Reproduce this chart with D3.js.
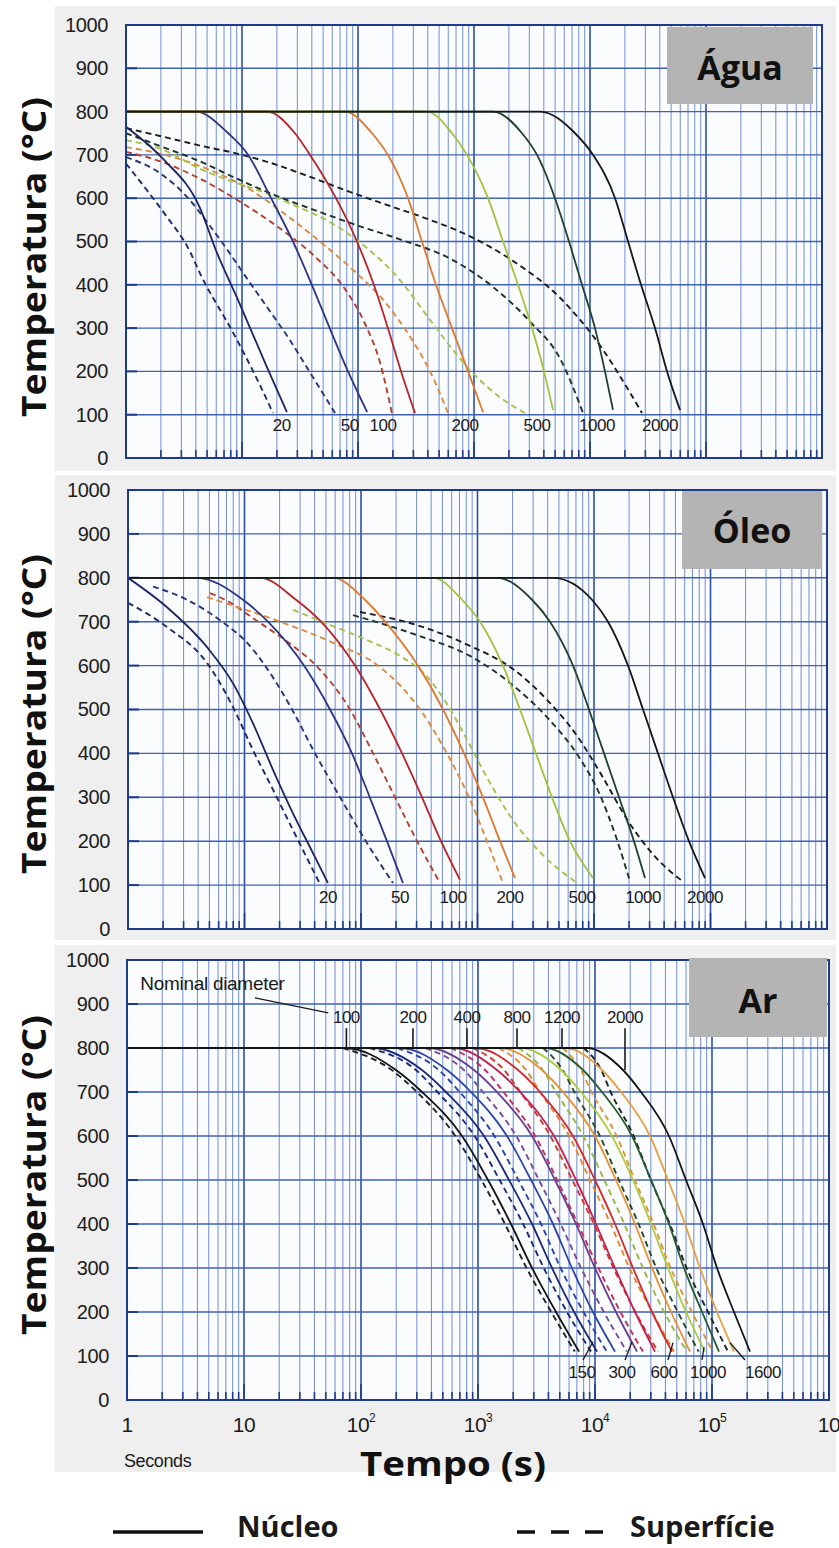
<!DOCTYPE html>
<html><head><meta charset="utf-8">
<script src="https://cdn.jsdelivr.net/npm/d3@7"></script>
<style>body{margin:0;background:#fff} svg{display:block}</style>
</head><body>
<script>
// ---------------- DATA ----------------
const tempTicks = [0,100,200,300,400,500,600,700,800,900,1000];
const timeLabelValues = [1,10,100,1000,10000,100000,1000000];
const timeLabelExp = ["","","2","3","4","5",""];

// Água (water) – [time s, temperature °C]
const waterSizes = [20,50,100,200,500,1000,2000];
const waterCore = [
  [[1,765],[2.1,690],[4.3,580],[6.1,473],[9,372],[16.4,210],[24.4,106]],
  [[1,800],[4,800],[7.6,750],[11.3,700],[17.8,600],[27.5,500],[40,400],[57,300],[82,200],[120,106]],
  [[1,800],[16.4,800],[28.6,750],[38.6,700],[64.6,600],[98,500],[137,400],[181,300],[235,200],[310,104]],
  [[1,800],[77,800],[132,750],[181,700],[270,600],[356,500],[470,400],[646,300],[888,200],[1196,106]],
  [[1,800],[393,800],[646,750],[870,700],[1321,600],[1778,500],[2395,400],[3162,300],[4010,200],[4800,111]],
  [[1,800],[1459,800],[2594,750],[3493,700],[4990,600],[6590,500],[8530,400],[11040,300],[13460,200],[15790,111]],
  [[1,800],[3705,800],[7430,750],[10620,700],[16440,600],[21280,500],[27540,400],[36340,300],[46130,200],[59700,111]]
];
const waterSurface = [
  [[1,680],[1.5,620],[2.25,557],[3.4,487],[4.5,418],[8.4,289],[14,173],[18.5,104]],
  [[1,695],[1.96,658],[3.36,603],[4.99,545],[7.42,482],[11,415],[16.8,345],[25.9,272],[40.1,190],[63.4,104]],
  [[1,707],[2.08,683],[4.34,645],[9.6,592],[21.3,530],[42.6,465],[77.3,390],[115,310],[155,220],[196,104]],
  [[1,718],[2.17,700],[5.3,665],[11.7,620],[24.4,560],[47,500],[94.2,430],[171,360],[281,280],[418,200],[597,104]],
  [[1,734],[2.08,712],[4.34,668],[21.3,598],[85.3,515],[230,411],[418,319],[924,203],[1675,140],[2754,104]],
  [[1,750],[2.08,718],[4.09,688],[9.06,645],[20,605],[47,568],[104,535],[230,505],[659,457],[1459,395],[3040,315],[5510,230],[8710,104]],
  [[1,762],[2.08,742],[4.61,720],[9.06,703],[17.4,682],[36.3,652],[80.4,617],[189,582],[418,550],[924,512],[2170,455],[5510,370],[12940,250],[20040,170],[28050,104]]
];
const waterLabelT = [22,85,164,836,3490,11480,40100];

// Óleo (oil)
const oilSizes = [20,50,100,200,500,1000,2000];
const oilCore = [
  [[1,800],[2.16,733],[4.77,642],[7.95,560],[11.8,469],[17.6,362],[26,264],[38.7,173],[52,105]],
  [[1,800],[3.9,800],[9.7,750],[15.9,700],[32.4,600],[54.2,500],[83.7,400],[119,300],[167,200],[229,105]],
  [[1,800],[13.6,800],[27.7,750],[45.4,700],[88.8,600],[146,500],[225,400],[334,300],[486,200],[707,112]],
  [[1,800],[57.5,800],[108,750],[161,700],[308,600],[506,500],[766,400],[1114,300],[1560,200],[2100,116]],
  [[1,800],[415,800],[736,750],[1050,700],[1655,600],[2316,500],[3177,400],[4358,300],[6226,200],[9800,116]],
  [[1,800],[1469,800],[2938,750],[4190,700],[6607,600],[9060,500],[12190,400],[16400,300],[22030,200],[27400,116]],
  [[1,800],[4449,800],[9610,750],[13190,700],[19590,600],[26360,500],[35420,400],[47640,300],[65350,200],[89700,116]]
];
const oilSurface = [
  [[1,743],[2.16,688],[4.77,606],[7.95,506],[11.8,408],[17.6,317],[26,226],[44,105]],
  [[1.64,780],[3.21,750],[6.41,700],[10.7,650],[15,600],[25.6,500],[40.3,400],[66.1,300],[110,200],[188,105]],
  [[5.06,765],[6.8,750],[13.1,700],[24.6,650],[41.1,600],[80.5,500],[127,400],[196,300],[303,200],[476,105]],
  [[4.77,756],[5.58,750],[20.2,700],[59.8,650],[140,600],[321,500],[547,400],[845,300],[1207,200],[1624,110]],
  [[26.1,727],[57.5,690],[113,658],[216,622],[354,580],[526,520],[781,440],[1207,345],[1900,258],[3437,175],[7150,105]],
  [[85.4,715],[321,667],[862,622],[2018,555],[4190,475],[7290,395],[11270,305],[15440,210],[20370,108]],
  [[98,722],[321,690],[862,645],[2018,592],[3954,522],[7150,440],[11950,345],[19190,250],[33400,165],[58070,108]]
];
const oilLabelT = [52,216,616,1900,7890,26360,89700];

// Ar (air)
const airSizes = [100,150,200,300,400,600,800,1000,1200,1600,2000];
const airCore = [
  [[1,800],[73,800],[199,750],[332,700],[730,600],[1218,500],[1914,400],[2897,300],[4645,200],[7300,110]],
  [[1,800],[124,800],[332,750],[532,700],[1125,600],[1841,500],[2897,400],[4290,300],[6620,200],[10400,110]],
  [[1,800],[215,800],[543,750],[871,700],[1770,600],[2838,500],[4375,400],[6350,300],[9610,200],[14830,110]],
  [[1,800],[374,800],[924,750],[1453,700],[2897,600],[4550,500],[6880,400],[10000,300],[15110,200],[22860,110]],
  [[1,800],[611,800],[1453,750],[2286,700],[4467,600],[6880,500],[10200,400],[14830,300],[21980,200],[32590,110]],
  [[1,800],[943,800],[2198,750],[3388,700],[6486,600],[10000,500],[14830,400],[21130,300],[30720,200],[45500,110]],
  [[1,800],[1542,800],[3524,750],[5320,700],[10000,600],[15110,500],[21980,400],[30720,300],[44670,200],[64860,110]],
  [[1,800],[2286,800],[5120,750],[7590,700],[13970,600],[21130,500],[30130,400],[42070,300],[59950,200],[87100,110]],
  [[1,800],[3740,800],[7890,750],[11480,700],[20700,600],[30130,500],[42880,400],[57660,300],[82200,200],[114800,110]],
  [[1,800],[5545,800],[11480,750],[16680,700],[29510,600],[42070,500],[58750,400],[78890,300],[110400,200],[154200,110]],
  [[1,800],[8550,800],[17340,750],[24720,700],[42880,600],[59950,500],[83750,400],[110400,300],[154200,200],[211300,110]]
];
const airSurface = [
  [[70,800],[183,750],[300,700],[640,600],[1070,500],[1700,400],[2600,300],[4230,200],[6720,110]],
  [[118,800],[295,750],[450,700],[935,600],[1530,500],[2430,400],[3650,300],[5760,200],[9260,110]],
  [[205,800],[462,750],[697,700],[1380,600],[2210,500],[3460,400],[5080,300],[7980,200],[12600,110]],
  [[355,800],[758,750],[1100,700],[2120,600],[3320,500],[5090,400],[7600,300],[11900,200],[18700,110]],
  [[580,800],[1150,750],[1650,700],[3080,600],[4750,500],[7140,400],[10700,300],[16500,200],[25700,110]],
  [[900,800],[1670,750],[2300,700],[4150,600],[6400,500],[9790,400],[14400,300],[22100,200],[34600,110]],
  [[1500,800],[2570,750],[3400,700],[6000,600],[9070,500],[13600,400],[19700,300],[30800,200],[47300,110]],
  [[2200,800],[3580,750],[4630,700],[7960,600],[12000,500],[17800,400],[25700,300],[39000,200],[61000,110]],
  [[3600,800],[5290,750],[6660,700],[11000,600],[16000,500],[23600,400],[33400,300],[51000,200],[76900,110]],
  [[5300,800],[7580,750],[9340,700],[15300,600],[21900,500],[31700,400],[44200,300],[67300,200],[102000,110]],
  [[8000,800],[11300,750],[13600,700],[21400,600],[30000,500],[43600,400],[60700,300],[92500,200],[137000,110]]
];
const airTopLabels = [100,200,400,800,1200,2000];
const airTopLabelT = [75,278,805,2154,5224,18050];
const airTopTickEndTemp = [800,800,800,800,800,750];
const airBottomLabels = [150,300,600,1000,1600];
const airBottomLabelT = [7745,17000,38900,92400,273000];
const airLeaderFrom = [[7890,91],[18050,91],[42070,91],[82200,91],[191400,91]];
const airLeaderTo = [[9610,132],[20700,132],[46400,130],[85500,120],[142600,130]];

// ---------------- STYLES ----------------
const waterCoreColors = ["#1c2360","#2e3482","#b8232a","#e0782a","#a3c23a","#1f4028","#161616"];
const waterSurfColors = ["#1e2a6a","#2a3478","#b4402c","#dc8a3c","#a9c245","#1e3424","#1e1e1e"];
const airCoreColors = ["#141414","#1b2a78","#2c44a8","#6b3d8f","#c4204e","#d42a2a","#e8902c","#aecb3a","#275a2e","#e6a040","#141414"];
const airSurfColors = ["#222222","#1b2a78","#2c44a8","#7a4a9a","#c03060","#d03a2a","#e08a30","#9ab840","#2a4a2a","#d8963a","#222222"];

const W = 839, H = 1548;
const svg = d3.select("body").append("svg").attr("width", W).attr("height", H)
  .style("font-family", "'Liberation Sans', Arial, sans-serif");

const panels = [
  {title:"Água", x0:126, x1:822, yt:25, yb:458, bg:[55,6,836,471], box:[667,27,813,104], tx:740, ty:80, ycap:257,
   core:waterCore, surf:waterSurface, cc:waterCoreColors, sc:waterSurfColors, sizes:waterSizes, labT:waterLabelT, labTemp:76},
  {title:"Óleo", x0:128, x1:827, yt:490, yb:929, bg:[55,475,836,940], box:[682,491,822,569], tx:752, ty:543, ycap:714,
   core:oilCore, surf:oilSurface, cc:waterCoreColors, sc:waterSurfColors, sizes:oilSizes, labT:oilLabelT, labTemp:73},
  {title:"Ar", x0:127, x1:829, yt:960, yb:1400, bg:[55,945,836,1472], box:[689,958,827,1037], tx:758, ty:1013, ycap:1175,
   core:airCore, surf:airSurface, cc:airCoreColors, sc:airSurfColors, sizes:null}
];

panels.forEach((p, pi) => {
  const g = svg.append("g");
  g.append("rect").attr("x", p.bg[0]).attr("y", p.bg[1]).attr("width", p.bg[2]-p.bg[0]).attr("height", p.bg[3]-p.bg[1]).attr("fill", "#efefef");

  const x = d3.scaleLog().domain([1, 1e6]).range([p.x0, p.x1]);
  const y = d3.scaleLinear().domain([0, 1000]).range([p.yb, p.yt]);

  g.append("rect").attr("x", p.x0).attr("y", p.yt).attr("width", p.x1-p.x0).attr("height", p.yb-p.yt).attr("fill", "#fbfcfe");

  const ticks = x.ticks();
  const isMajor = t => Math.abs(Math.log10(t) - Math.round(Math.log10(t))) < 1e-9;
  g.append("g").selectAll("line").data(ticks).join("line")
    .attr("x1", d => x(d)).attr("x2", d => x(d)).attr("y1", p.yt).attr("y2", p.yb)
    .attr("stroke", d => isMajor(d) ? "#2c4ea6" : "#5b7cc8")
    .attr("stroke-width", d => isMajor(d) ? 1.6 : 1)
    .attr("opacity", d => isMajor(d) ? 1 : 0.85);
  g.append("g").selectAll("line").data(tempTicks.slice(1, -1)).join("line")
    .attr("x1", p.x0).attr("x2", p.x1).attr("y1", d => y(d)).attr("y2", d => y(d))
    .attr("stroke", "#3f62b5").attr("stroke-width", 1.4);
  g.append("g").selectAll("line").data(ticks).join("line")
    .attr("x1", d => x(d)).attr("x2", d => x(d)).attr("y1", p.yb).attr("y2", d => p.yb - (isMajor(d) ? 16 : 8))
    .attr("stroke", "#1e3a8a").attr("stroke-width", 1.6);
  g.append("g").selectAll("line").data(tempTicks).join("line")
    .attr("x1", p.x0).attr("x2", p.x0 + 11).attr("y1", d => y(d)).attr("y2", d => y(d))
    .attr("stroke", "#1e3a8a").attr("stroke-width", 2);

  const ya = g.append("g").attr("transform", `translate(${p.x0},0)`)
    .call(d3.axisLeft(y).tickValues(tempTicks).tickSize(0).tickPadding(18).tickFormat(d3.format("d")));
  ya.select(".domain").remove();
  ya.selectAll("text").attr("font-size", 20).attr("fill", "#1c1c1c").attr("letter-spacing", "-0.4px")
    .attr("font-family", "'Liberation Sans', Arial, sans-serif");

  const clipId = "clip" + pi;
  g.append("clipPath").attr("id", clipId).append("rect")
    .attr("x", p.x0).attr("y", p.yt).attr("width", p.x1 - p.x0).attr("height", p.yb - p.yt);
  const cg = g.append("g").attr("clip-path", `url(#${clipId})`);
  const line = d3.line().x(d => x(d[0])).y(d => y(d[1])).curve(d3.curveMonotoneX);
  cg.selectAll("path.s").data(p.surf).join("path").attr("class", "s")
    .attr("d", line).attr("fill", "none").attr("stroke", (d, i) => p.sc[i])
    .attr("stroke-width", 1.9).attr("stroke-dasharray", "6,4");
  cg.selectAll("path.c").data(p.core).join("path").attr("class", "c")
    .attr("d", line).attr("fill", "none").attr("stroke", (d, i) => p.cc[i])
    .attr("stroke-width", 1.8);

  g.append("rect").attr("x", p.x0).attr("y", p.yt).attr("width", p.x1 - p.x0).attr("height", p.yb - p.yt)
    .attr("fill", "none").attr("stroke", "#1e3a8a").attr("stroke-width", 2);

  if (p.sizes) {
    g.append("g").selectAll("text").data(p.sizes).join("text")
      .attr("x", (d, i) => x(p.labT[i])).attr("y", y(p.labTemp)).attr("dy", "0.35em")
      .attr("text-anchor", "middle").attr("font-size", 17).attr("fill", "#1a1a1a").attr("letter-spacing", "-0.5px")
      .text(d => d);
  } else {
    g.append("text").attr("x", x(1.3)).attr("y", y(948)).attr("dy", "0.35em")
      .attr("font-size", 19).attr("fill", "#1a1a1a").attr("letter-spacing", "-0.3px").text("Nominal diameter");
    g.append("line").attr("x1", x(12.4)).attr("y1", y(914)).attr("x2", x(52.5)).attr("y2", y(880))
      .attr("stroke", "#1a1a1a").attr("stroke-width", 1.3);
    g.append("g").selectAll("text").data(airTopLabels).join("text")
      .attr("x", (d, i) => x(airTopLabelT[i])).attr("y", y(870)).attr("dy", "0.35em")
      .attr("text-anchor", "middle").attr("font-size", 17).attr("fill", "#1a1a1a").attr("letter-spacing", "-0.5px").text(d => d);
    g.append("g").selectAll("line").data(airTopLabels).join("line")
      .attr("x1", (d, i) => x(airTopLabelT[i])).attr("x2", (d, i) => x(airTopLabelT[i]))
      .attr("y1", y(845)).attr("y2", (d, i) => y(airTopTickEndTemp[i]))
      .attr("stroke", "#1a1a1a").attr("stroke-width", 1.6);
    g.append("g").selectAll("text").data(airBottomLabels).join("text")
      .attr("x", (d, i) => x(airBottomLabelT[i])).attr("y", y(64)).attr("dy", "0.35em")
      .attr("text-anchor", "middle").attr("font-size", 17).attr("fill", "#1a1a1a").attr("letter-spacing", "-0.5px").text(d => d);
    g.append("g").selectAll("line").data(airBottomLabels).join("line")
      .attr("x1", (d, i) => x(airLeaderFrom[i][0])).attr("y1", (d, i) => y(airLeaderFrom[i][1]))
      .attr("x2", (d, i) => x(airLeaderTo[i][0])).attr("y2", (d, i) => y(airLeaderTo[i][1]))
      .attr("stroke", "#1a1a1a").attr("stroke-width", 1.3);

    const xl = g.append("g").selectAll("text").data(timeLabelValues).join("text")
      .attr("x", d => x(d)).attr("y", 1432).attr("text-anchor", "middle")
      .attr("font-size", 21).attr("fill", "#1a1a1a").attr("letter-spacing", "-0.5px");
    xl.append("tspan").text(d => d === 1 ? "1" : "10");
    xl.append("tspan").attr("font-size", 12).attr("dy", -10).text((d, i) => timeLabelExp[i]);
    g.append("text").attr("x", 124).attr("y", 1467).attr("font-size", 18).attr("fill", "#1a1a1a")
      .attr("letter-spacing", "-0.4px").text("Seconds");
  }

  g.append("rect").attr("x", p.box[0]).attr("y", p.box[1]).attr("width", p.box[2]-p.box[0]).attr("height", p.box[3]-p.box[1]).attr("fill", "#b4b4b4");
  g.append("text").attr("x", p.tx).attr("y", p.ty).attr("text-anchor", "middle")
    .attr("font-family", "'Open Sans', sans-serif").attr("font-weight", "bold").attr("font-size", 34)
    .attr("fill", "#111").text(p.title);

  g.append("text").attr("transform", `translate(46,${p.ycap}) rotate(-90)`).attr("text-anchor", "middle")
    .attr("font-family", "'Open Sans', sans-serif").attr("font-weight", "bold").attr("font-size", 34)
    .attr("textLength", 320).attr("lengthAdjust", "spacingAndGlyphs")
    .attr("fill", "#111").text("Temperatura (°C)");
});

svg.append("text").attr("x", 453).attr("y", 1476).attr("text-anchor", "middle")
  .attr("font-family", "'Open Sans', sans-serif").attr("font-weight", "bold").attr("font-size", 34)
  .attr("textLength", 186).attr("lengthAdjust", "spacingAndGlyphs")
  .attr("fill", "#111").text("Tempo (s)");

const lg = svg.append("g").attr("font-family", "'Open Sans', sans-serif").attr("font-weight", "bold").attr("fill", "#1a1a1a");
lg.append("line").attr("x1", 113).attr("x2", 203).attr("y1", 1532).attr("y2", 1532).attr("stroke", "#111").attr("stroke-width", 3.5);
lg.append("text").attr("x", 237).attr("y", 1537).attr("font-size", 29).text("Núcleo");
lg.append("line").attr("x1", 517).attr("x2", 603).attr("y1", 1532).attr("y2", 1532).attr("stroke", "#111").attr("stroke-width", 3.5)
  .attr("stroke-dasharray", "18,16");
lg.append("text").attr("x", 630).attr("y", 1537).attr("font-size", 29).text("Superfície");
</script></body></html>
